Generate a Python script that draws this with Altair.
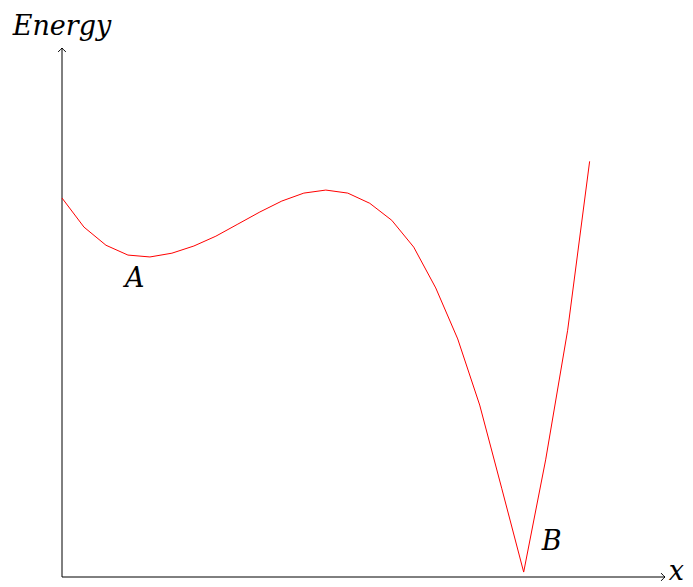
import altair as alt
import pandas as pd

# Energy curve (units: cm of the original figure)
curve_x = [0.0, 0.583, 1.167, 1.75, 2.333, 2.917, 3.5, 4.083, 4.667, 5.25, 5.833,
           6.417, 7.0, 7.583, 8.167, 8.75, 9.333, 9.917, 10.5, 11.083, 11.667,
           12.25, 12.833, 13.417, 14.0]
curve_y = [10.03, 9.26, 8.78, 8.52, 8.47, 8.57, 8.76, 9.02, 9.34, 9.66, 9.95,
           10.16, 10.24, 10.16, 9.89, 9.44, 8.73, 7.65, 6.30, 4.55, 2.35,
           0.13, 3.10, 6.53, 11.0]

# Point labels
labels = ["A", "B"]
label_x = [1.93, 12.99]
label_y = [7.67, 0.71]

# Axis titles
axis_titles = ["Energy", "x"]
title_x = [0.0, 16.3]
title_y = [14.34, -0.08]

# Axis extents
axis_x0 = [0, 0]
axis_y0 = [0, 0]
axis_x1 = [16, 0]
axis_y1 = [0, 14]
arrow_angle = [0, 270]

xs = alt.Scale(domain=[0, 16], nice=False, zero=False)
ys = alt.Scale(domain=[0, 14], nice=False, zero=False)

curve_df = pd.DataFrame({"i": range(len(curve_x)), "x": curve_x, "y": curve_y})
label_df = pd.DataFrame({"t": labels, "x": label_x, "y": label_y})
title_df = pd.DataFrame({"t": axis_titles, "x": title_x, "y": title_y})
axis_df = pd.DataFrame({"x": axis_x0, "y": axis_y0, "x2": axis_x1, "y2": axis_y1})
arrow_df = pd.DataFrame({"x": axis_x1, "y": axis_y1, "a": arrow_angle})

axes = alt.Chart(axis_df).mark_rule(color="black", strokeWidth=1).encode(
    x=alt.X("x:Q", scale=xs, axis=None),
    y=alt.Y("y:Q", scale=ys, axis=None),
    x2="x2:Q",
    y2="y2:Q",
)

arrows = alt.Chart(arrow_df).mark_point(
    shape="M-1.1,-1.1 Q-0.35,-0.25 0,0 Q-0.35,0.25 -1.1,1.1",
    filled=False, stroke="black", strokeWidth=1, size=49, opacity=1,
).encode(
    x=alt.X("x:Q", scale=xs, axis=None),
    y=alt.Y("y:Q", scale=ys, axis=None),
    angle=alt.Angle("a:Q", scale=None),
)

curve = alt.Chart(curve_df).mark_line(color="#ff0000", strokeWidth=1).encode(
    x=alt.X("x:Q", scale=xs, axis=None),
    y=alt.Y("y:Q", scale=ys, axis=None),
    order="i:Q",
)

text_props = dict(font="DejaVu Serif", fontStyle="italic", fontSize=27,
                  baseline="alphabetic", align="center", color="black")

label_text = alt.Chart(label_df).mark_text(**text_props).encode(
    x=alt.X("x:Q", scale=xs, axis=None),
    y=alt.Y("y:Q", scale=ys, axis=None),
    text="t:N",
)

title_text = alt.Chart(title_df).mark_text(**text_props).encode(
    x=alt.X("x:Q", scale=xs, axis=None),
    y=alt.Y("y:Q", scale=ys, axis=None),
    text="t:N",
)

chart = alt.layer(axes, arrows, curve, label_text, title_text).properties(
    width=603,
    height=529,
    autosize=alt.AutoSizeParams(type="none"),
    padding={"left": 54, "top": 40, "right": 20, "bottom": 10},
    background="white",
).configure_view(stroke=None)

chart.save("out.html", embed_options={"renderer": "svg", "actions": False})
